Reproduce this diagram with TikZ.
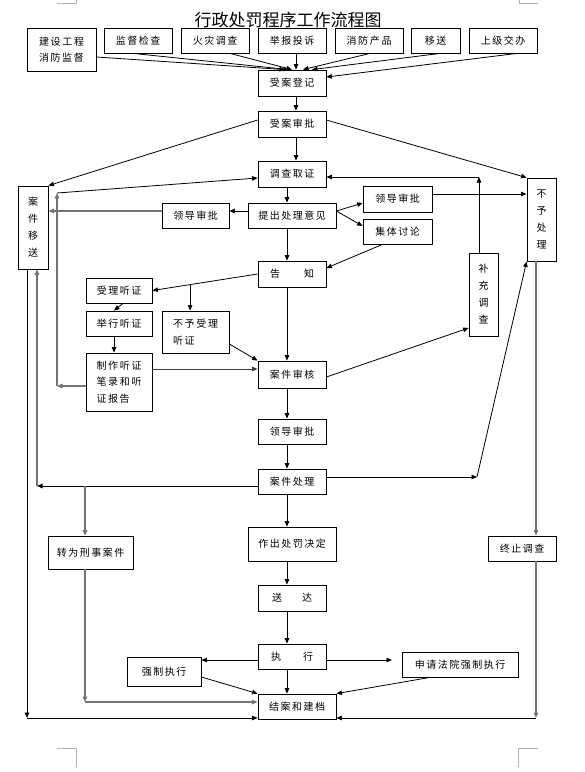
\documentclass[tikz,border=0pt]{standalone}
\usepackage{fontspec}
\newfontfamily\cjk[LetterSpace=15]{Noto Sans CJK SC}
\newfontfamily\cjktitle{Noto Sans CJK SC}
\usetikzlibrary{arrows.meta,calc}
\begin{document}
\begin{tikzpicture}[x=1pt,y=-1pt,
  box/.style={draw,line width=0.8pt,inner sep=0pt,align=center,font=\cjk\fontsize{10}{16}\selectfont},
  vbox/.style={box,font=\cjk\fontsize{10}{17}\selectfont},
  ar/.style={-{Triangle[length=5.5pt,width=4.5pt]},line width=0.8pt},
  gar/.style={ar,draw=black!55,fill=black!55,line width=1.3pt},
  crop/.style={draw=black!30,line width=0.6pt}]
\useasboundingbox (0,0) rectangle (585,772);
% crop marks
\draw[crop] (57,3) -- (76,3) -- (76,0);
\draw[crop] (519,0) -- (519,3) -- (538,3);
\draw[crop] (57,748) -- (76,748) -- (76,767);
\draw[crop] (518,767) -- (518,748) -- (538,748);
% title
\node[font=\cjktitle\fontsize{17}{17}\selectfont,inner sep=0pt] (title) at (288,20) {行政处罚程序工作流程图};
% top row
\node[box,minimum width=69pt,minimum height=43pt,align=left] (n1) at (61.5,49.5) {建\,设\,工\,程\\消防监督};
\node[box,minimum width=68pt,minimum height=25pt] (n2) at (138,40.5) {监督检查};
\node[box,minimum width=68pt,minimum height=25pt] (n3) at (215,40.5) {火灾调查};
\node[box,minimum width=68pt,minimum height=25pt] (n4) at (292,40.5) {举报投诉};
\node[box,minimum width=68pt,minimum height=25pt] (n5) at (369,40.5) {消\,防\,产\,品};
\node[box,minimum width=49pt,minimum height=25pt] (n6) at (435.5,40.5) {移送};
\node[box,minimum width=68pt,minimum height=25pt] (n7) at (503,40.5) {上级交办};
% main column
\node[box,minimum width=68pt,minimum height=26pt] (sadj) at (292,83) {受案登记};
\node[box,minimum width=68pt,minimum height=26pt] (sasp) at (292,124) {受案审批};
\node[box,minimum width=68pt,minimum height=26pt] (dcqz) at (292,174) {调查取证};
\node[box,minimum width=88pt,minimum height=25pt] (tcyj) at (292,215.5) {提出处理意见};
\node[box,minimum width=68pt,minimum height=26pt] (gz) at (292,274) {告\hspace{24pt}知};
\node[box,minimum width=67pt,minimum height=25pt] (ldl) at (195.5,215.5) {领导审批};
\node[box,minimum width=69pt,minimum height=26pt] (ldr) at (397.5,199) {领导审批};
\node[box,minimum width=69pt,minimum height=25pt] (jttl) at (397.5,231.5) {集体讨论};
\node[vbox,minimum width=29pt,minimum height=83pt] (byc) at (541.5,219.5) {不\\予\\处\\理};
\node[vbox,minimum width=29pt,minimum height=83pt] (bcdc) at (483.5,294.5) {补\\充\\调\\查};
\node[vbox,minimum width=30pt,minimum height=83pt] (ajys) at (33,227.5) {案\\件\\移\\送};
\node[box,minimum width=66pt,minimum height=25pt] (sltz) at (119,290.5) {受理听证};
\node[box,minimum width=66pt,minimum height=25pt] (jxtz) at (119,323.5) {举行听证};
\node[box,minimum width=67pt,minimum height=42pt,align=left,font=\cjk\fontsize{10}{17}\selectfont] (bysl) at (195.5,332) {不\,予\,受\,理\\听证};
\node[box,minimum width=66pt,minimum height=58pt,align=left,font=\cjk\fontsize{10}{16.5}\selectfont] (zztz) at (119,382) {制\,作\,听\,证\\笔\,录\,和\,听\\证报告};
\node[box,minimum width=68pt,minimum height=27pt] (ajsh) at (292,374.5) {案件审核};
\node[box,minimum width=68pt,minimum height=25pt] (ldm) at (292,431.5) {领导审批};
\node[box,minimum width=68pt,minimum height=25pt] (ajcl) at (292,481.5) {案件处理};
\node[box,minimum width=88pt,minimum height=34pt] (zccf) at (292,544) {作出处罚决定};
\node[box,minimum width=68pt,minimum height=26pt] (sd) at (292,598) {送\hspace{20pt}达};
\node[box,minimum width=85pt,minimum height=33pt] (zxxs) at (90.5,552.5) {转为刑事案件};
\node[box,minimum width=68pt,minimum height=25pt] (zzdc) at (522,548.5) {终止调查};
\node[box,minimum width=68pt,minimum height=25pt] (zx) at (292,656.5) {执\hspace{22pt}行};
\node[box,minimum width=74pt,minimum height=29pt] (qzzx) at (164,671.5) {强制执行};
\node[box,minimum width=116pt,minimum height=25pt] (sqfy) at (460,664.5) {申请法院强制执行};
\node[box,minimum width=78pt,minimum height=25pt] (ja) at (297,706.5) {结案和建档};
% bend points
\coordinate (c1) at (479,177);
\coordinate (c2) at (57,386);
\coordinate (c3) at (57,193);
\coordinate (c5) at (37,486);
\coordinate (c6) at (85,486);
\coordinate (c7) at (85,702);
\coordinate (c8) at (27,718);
\coordinate (c9) at (477,477);
\coordinate (c10) at (536,718);
\coordinate (c11) at (392,660);
\coordinate (c4) at ($(gz.west)!0.6415!(sltz.east)$);
% top arrows
\draw[ar] ([yshift=-7.5pt]n1.east) -- ([xshift=-7pt]sadj.north);
\draw[ar] ([xshift=-5pt]n2.south) -- ([xshift=-3pt]sadj.north);
\draw[ar] ([xshift=15pt]n3.south) -- ([xshift=0pt]sadj.north);
\draw[ar] ([xshift=4pt]n4.south) -- ([xshift=4pt]sadj.north);
\draw[ar] ([xshift=1pt]n5.south) -- ([xshift=11pt]sadj.north);
\draw[ar] ([xshift=4.5pt]n6.south) -- ([xshift=20pt]sadj.north);
\draw[ar] ([xshift=14pt]n7.south) -- ([yshift=6pt]sadj.east);
% main column
\draw[ar] ([xshift=4pt]sadj.south) -- ([xshift=4pt]sasp.north);
\draw[ar] ([xshift=4pt]sasp.south) -- ([xshift=4pt]dcqz.north);
\draw[ar] ([yshift=4pt]sasp.west) -- (ajys.north east);
\draw[ar] ([yshift=4pt]sasp.east) -- (byc.north west);
\draw[ar] ([xshift=-5pt]dcqz.south) -- ([xshift=-5pt]tcyj.north);
\draw[ar] ([xshift=-5pt]tcyj.south) -- ([xshift=-5pt]gz.north);
\draw[ar] ([yshift=4.5pt]tcyj.west) -- ([yshift=4.5pt]tcyj.west -| ldl.east);
\draw[gar] ([yshift=4.5pt]ldl.west) -- ([yshift=4.5pt]ldl.west -| ajys.east);
\draw[ar] ([yshift=4.5pt]tcyj.east) -- ([yshift=-4pt]ldr.west);
\draw[ar] ([yshift=4.5pt]tcyj.east) -- ([yshift=5.5pt]jttl.west);
\draw[ar] ([xshift=-15pt]jttl.south) -- ([yshift=6pt]gz.east);
\draw[ar] ([yshift=5pt]ldr.east) -- ([yshift=5pt]ldr.east -| byc.west);
% supplementary investigation loop
\draw[ar] ([xshift=-4.5pt]bcdc.north) -- (c1);
\draw[ar] (c1) -- (c1 -| dcqz.east);
% left loop
\draw[gar] ([yshift=-4pt]zztz.west) -- (c2);
\draw[gar] (c2) -- (c3);
\draw[ar] (c3) -- ([yshift=-4pt]dcqz.west);
% hearing branch
\draw[ar] (gz.west) -- (sltz.east);
\draw[ar] (c4) -- (c4 |- bysl.north);
\draw[ar] ([xshift=4pt]sltz.south) -- ([xshift=-5pt]jxtz.north);
\draw[ar] ([xshift=-5pt]jxtz.south) -- ([xshift=-5pt]zztz.north);
\draw[ar,draw=black!75] ([yshift=13pt]zztz.east) -- ([yshift=13pt]zztz.east -| ajsh.west);
\draw[ar] ([yshift=-12pt]bysl.east) -- (ajsh.north west);
\draw[ar] ([xshift=-5pt]gz.south) -- ([xshift=-5pt]ajsh.north);
\draw[ar] ([yshift=-2.5pt]ajsh.east) -- ([yshift=-33.5pt]bcdc.west);
\draw[ar] ([xshift=-5pt]ajsh.south) -- ([xshift=-5pt]ldm.north);
\draw[ar] ([xshift=-5pt]ldm.south) -- ([xshift=-5pt]ajcl.north);
% case handling branches
\draw[ar] ([yshift=-4.5pt]ajcl.west) -- (c5);
\draw[gar] (c5) -- ([xshift=4pt]ajys.south);
\draw[gar] (c6) -- (c6 |- zxxs.north);
\draw[gar] (c6 |- zxxs.south) -- (c7);
\draw[gar] (c7) -- (c7 -| ja.west);
\draw[ar] ([xshift=-6pt]ajys.south) -- (c8);
\draw[ar] (c8) -- (c8 -| ja.west);
\draw[ar] ([yshift=4.5pt]ajcl.east) -- (c9);
\draw[ar] (c9) -- (byc.south west);
\draw[gar] ([xshift=-5.5pt]byc.south) -- ([xshift=-5.5pt]byc.south |- zzdc.north);
\draw[gar] ([xshift=-5.5pt]byc.south |- zzdc.south) -- (c10);
\draw[ar] (c10) -- (c10 -| ja.east);
% lower column
\draw[ar] ([xshift=-5pt]ajcl.south) -- ([xshift=-5pt]zccf.north);
\draw[ar] ([xshift=-5pt]zccf.south) -- ([xshift=-5pt]sd.north);
\draw[ar] ([xshift=-5pt]sd.south) -- ([xshift=-5pt]zx.north);
\draw[ar] ([yshift=-3.5pt]zx.west) -- ([yshift=-3.5pt]zx.west -| qzzx.east);
\draw[ar] ([yshift=-3.5pt]zx.east) -- (c11);
\draw[ar] ([yshift=-5.5pt]qzzx.east) -- (ja.north west);
\draw[ar] ([xshift=-30pt]sqfy.south) -- (ja.north east);
\draw[ar] ([xshift=-5pt]zx.south) -- ([xshift=-10pt]ja.north);
\end{tikzpicture}
\end{document}
